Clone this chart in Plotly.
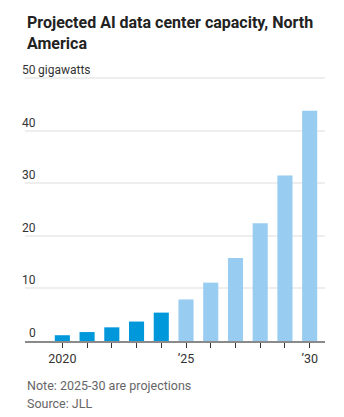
import plotly.graph_objects as go

# ---- data ----
years = [2020, 2021, 2022, 2023, 2024, 2025, 2026, 2027, 2028, 2029, 2030]
capacity_gw = [1.1, 1.7, 2.6, 3.7, 5.4, 7.9, 11.1, 15.8, 22.4, 31.5, 43.8]
first_projection_year = 2025
y_tick_values = [0, 10, 20, 30, 40, 50]
y_unit = "gigawatts"
x_tick_labels = {2020: "2020", 2025: "\u201925", 2030: "\u201930"}

title_text = "Projected AI data center capacity, North<br>America"
note_text = "Note: 2025-30 are projections"
source_text = "Source: JLL"

# ---- style ----
DARK = "#0098db"
LIGHT = "#98ccf0"
FONT = "Roboto"
W, H = 344, 417
ML, MR, MT, MB = 25, 19, 76, 76
PLOT_H = H - MT - MB


def py(ypx):
    """pixel-from-top -> paper y"""
    return (H - MB - ypx) / PLOT_H


colors = [LIGHT if y >= first_projection_year else DARK for y in years]

fig = go.Figure()
fig.add_trace(go.Bar(
    x=years, y=capacity_gw, marker=dict(color=colors, line=dict(width=0)),
    width=0.61, hoverinfo="x+y",
))

fig.update_layout(
    width=W, height=H,
    margin=dict(l=ML, r=MR, t=MT, b=MB, pad=0),
    paper_bgcolor="white", plot_bgcolor="white",
    showlegend=False,
    font=dict(family=FONT, color="#333333"),
    xaxis=dict(
        range=[2018.49, 2030.62],
        tickvals=years,
        ticktext=[x_tick_labels.get(y, "") for y in years],
        ticks="outside", ticklen=5, tickwidth=1, tickcolor="#333333",
        showline=True, linecolor="#8a8a8a", linewidth=2,
        showgrid=False, zeroline=False,
        tickfont=dict(size=12.5, color="#333333", family=FONT),
        fixedrange=True,
    ),
    yaxis=dict(
        range=[0, 50.4],
        tickvals=y_tick_values,
        showticklabels=False,
        showgrid=True, gridcolor="#eeeeee", gridwidth=2,
        zeroline=False, fixedrange=True,
    ),
)

annotations = []
for v in y_tick_values:
    annotations.append(dict(
        x=0, xref="paper", y=v, yref="y", text=str(v),
        xanchor="right", yanchor="bottom", xshift=12.5, yshift=-1,
        showarrow=False, font=dict(size=12, color="#333333", family=FONT),
    ))
annotations.append(dict(
    x=0, xref="paper", y=y_tick_values[-1], yref="y", text=y_unit,
    xanchor="left", yanchor="bottom", xshift=10.5, yshift=-1,
    showarrow=False, font=dict(size=12, color="#333333", family=FONT),
))
annotations.append(dict(
    x=0, xref="paper", y=py(11), yref="paper", text="<b>" + title_text + "</b>",
    xanchor="left", yanchor="top", align="left", showarrow=False,
    font=dict(size=16, color="#222222", family=FONT),
))
annotations.append(dict(
    x=0, xref="paper", y=py(385), yref="paper", text=note_text,
    xanchor="left", yanchor="middle", align="left", showarrow=False,
    font=dict(size=12.5, color="#666666", family=FONT),
))
annotations.append(dict(
    x=0, xref="paper", y=py(403), yref="paper", text=source_text,
    xanchor="left", yanchor="middle", align="left", showarrow=False,
    font=dict(size=12.5, color="#666666", family=FONT),
))
fig.update_layout(annotations=annotations)

fig.write_html("out.html", config={"displayModeBar": False})
